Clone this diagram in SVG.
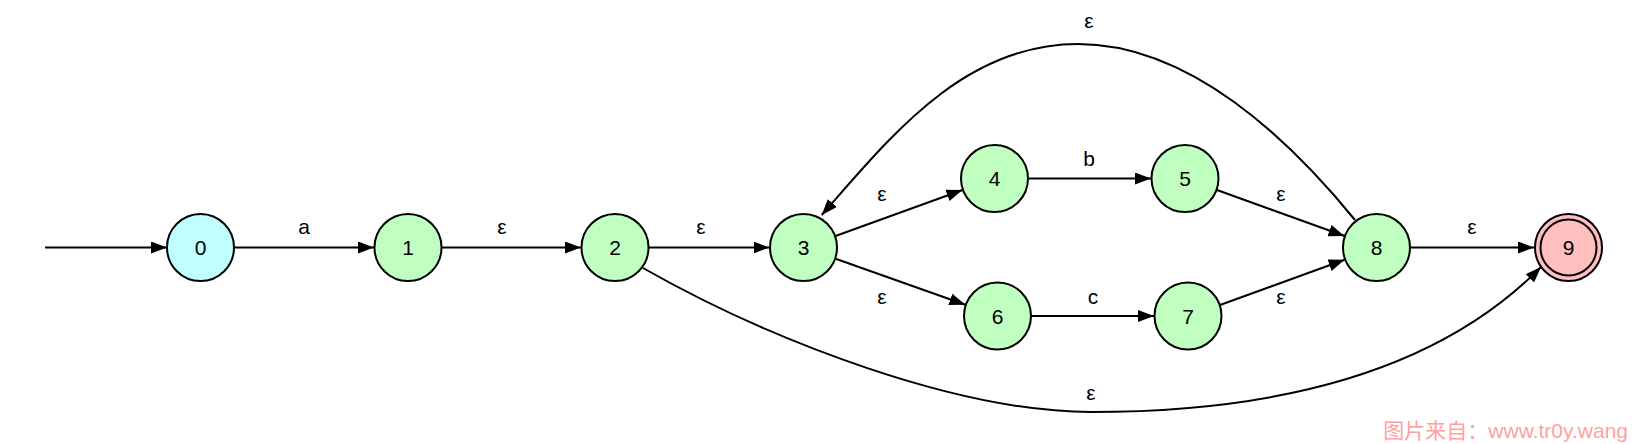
<svg xmlns="http://www.w3.org/2000/svg" width="1632" height="444" viewBox="0 0 1632 444">
<style>
.node circle{stroke:#000;stroke-width:2}
.n0{fill:#bfffff}
.ng{fill:#bfffbf}
.nf{fill:#ffbfbf}
.inner{fill:none}
text{font-family:"Liberation Sans",Arial,sans-serif;font-size:21px;fill:#000}
.nl{text-anchor:middle}
.el{text-anchor:middle}
#edges path{fill:none;stroke:#000;stroke-width:2;marker-end:url(#arr)}
.wm{font-size:21px;fill:#ff9f9f;text-anchor:end;font-family:"Liberation Sans","Noto Sans CJK SC",sans-serif}
</style>
<defs>
<marker id="arr" markerUnits="userSpaceOnUse" markerWidth="17" markerHeight="13" refX="16" refY="6" orient="auto">
<path d="M0,0 L16,6 L0,12 z" fill="#000"/>
</marker>
</defs>
<rect width="1632" height="444" fill="#fff"/>
<g id="edges">
<path d="M45,247.5 L167,247.5"/>
<path d="M234.5,247.5 L374,247.5"/>
<path d="M442,247.5 L581,247.5"/>
<path d="M649,247.5 L769.5,247.5"/>
<path d="M835.5,236 L962.5,190"/>
<path d="M1028.5,178.5 L1151,178.5"/>
<path d="M1217,190 L1344.5,236"/>
<path d="M835.6,258.8 L965.4,304.7"/>
<path d="M1031.5,316 L1154,316"/>
<path d="M1220,305 L1344.6,259.8"/>
<path d="M1410.5,247.5 L1534,247.5"/>
<path d="M1355,220 C1290,140 1190,44 1078,44 C962,44 888,140 821.7,215"/>
<path d="M643,268 C775,343 960,412 1091,412 C1230,412 1420,390 1541,267"/>
</g>
<g id="edge-labels">
<text class="el" x="304" y="234">a</text>
<text class="el" x="502" y="234">ε</text>
<text class="el" x="701" y="234">ε</text>
<text class="el" x="882" y="201">ε</text>
<text class="el" x="1089" y="166">b</text>
<text class="el" x="1281" y="201">ε</text>
<text class="el" x="882" y="304">ε</text>
<text class="el" x="1093" y="304">c</text>
<text class="el" x="1281" y="304">ε</text>
<text class="el" x="1472" y="234">ε</text>
<text class="el" x="1089" y="28">ε</text>
<text class="el" x="1091" y="400">ε</text>
</g>
<g id="node0" class="node"><circle class="n0" cx="200.5" cy="247.5" r="33.5"/><text class="nl" x="200.5" y="255">0</text></g>
<g id="node1" class="node"><circle class="ng" cx="408" cy="247.5" r="33.5"/><text class="nl" x="408" y="255">1</text></g>
<g id="node2" class="node"><circle class="ng" cx="615" cy="247.5" r="33.5"/><text class="nl" x="615" y="255">2</text></g>
<g id="node3" class="node"><circle class="ng" cx="803.5" cy="247.5" r="33.5"/><text class="nl" x="803.5" y="255">3</text></g>
<g id="node4" class="node"><circle class="ng" cx="994.5" cy="178.5" r="33.5"/><text class="nl" x="994.5" y="186">4</text></g>
<g id="node5" class="node"><circle class="ng" cx="1185" cy="178.5" r="33.5"/><text class="nl" x="1185" y="186">5</text></g>
<g id="node6" class="node"><circle class="ng" cx="997.5" cy="316" r="33.5"/><text class="nl" x="997.5" y="323.5">6</text></g>
<g id="node7" class="node"><circle class="ng" cx="1188" cy="316" r="33.5"/><text class="nl" x="1188" y="323.5">7</text></g>
<g id="node8" class="node"><circle class="ng" cx="1376.5" cy="247.5" r="33.5"/><text class="nl" x="1376.5" y="255">8</text></g>
<g id="node9" class="node"><circle class="nf" cx="1568.5" cy="247.5" r="33.5"/><circle class="inner" cx="1568.5" cy="247.5" r="28"/><text class="nl" x="1568.5" y="255">9</text></g>
<text class="wm" x="1628" y="438">图片来自：www.tr0y.wang</text>
</svg>
